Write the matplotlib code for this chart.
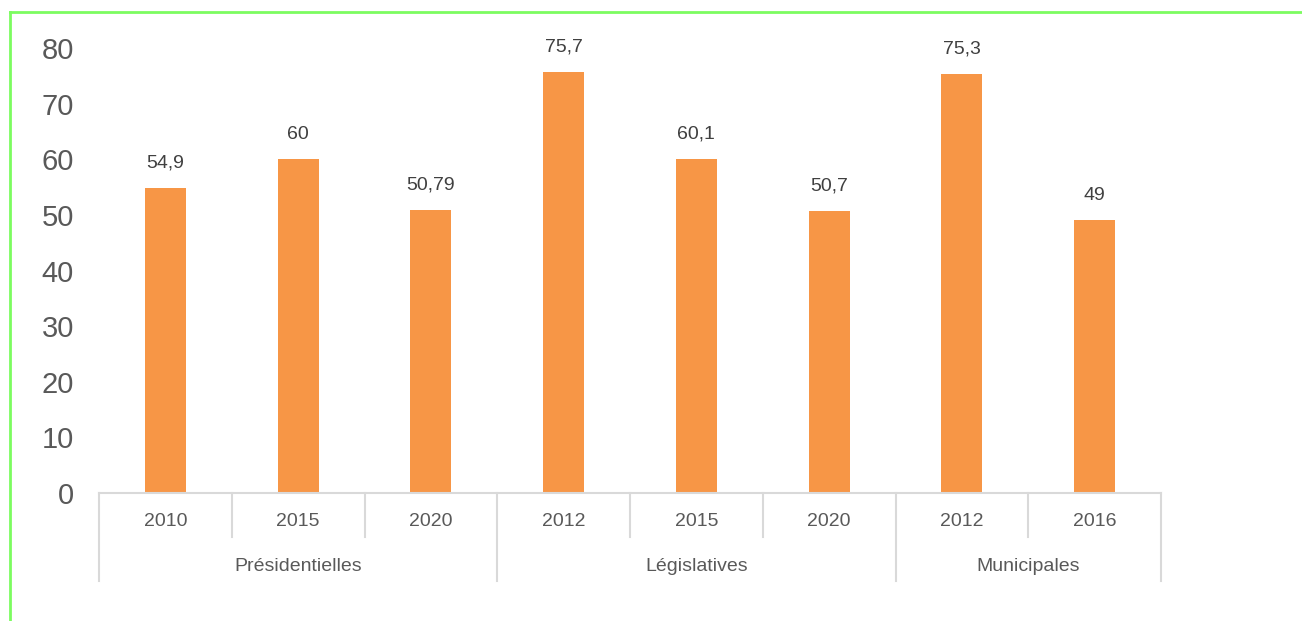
import numpy as np
import matplotlib.pyplot as plt
from matplotlib.lines import Line2D
import matplotlib.transforms as mtransforms

# data
groups = ['Présidentielles', 'Législatives', 'Municipales']
group_sizes = [3, 3, 2]
years = ['2010', '2015', '2020', '2012', '2015', '2020', '2012', '2016']
values = [54.9, 60, 50.79, 75.7, 60.1, 50.7, 75.3, 49]
value_labels = ['54,9', '60', '50,79', '75,7', '60,1', '50,7', '75,3', '49']

W, H = 1302, 621
fig = plt.figure(figsize=(W / 100, H / 100), dpi=100)
ax = fig.add_axes([99 / W, (H - 493) / H, (1161 - 99) / W, (493 - 48) / H])

narrow = ['Liberation Sans Narrow', 'Liberation Sans', 'DejaVu Sans']
x = np.arange(len(values))
ax.bar(x, values, width=0.31, color='#F79646', zorder=2)
for xi, v, lab in zip(x, values, value_labels):
    ax.annotate(lab, (xi, v), xytext=(0, 25), textcoords='offset pixels',
                ha='center', va='center', fontsize=14, color='#404040', family=narrow)

ax.set_xlim(-0.5, len(values) - 0.5)
ax.set_ylim(0, 80)
ax.set_yticks(range(0, 81, 10))
ax.tick_params(axis='y', length=0, labelsize=21, labelcolor='#595959', pad=18)
for t in ax.get_yticklabels():
    t.set_family(['Liberation Sans', 'DejaVu Sans'])
ax.set_xticks([])
for s in ['top', 'right', 'left']:
    ax.spines[s].set_visible(False)
ax.spines['bottom'].set_color('#D9D9D9')
ax.spines['bottom'].set_linewidth(1.5)

trans = mtransforms.blended_transform_factory(ax.transData, ax.transAxes)
sep = '#D9D9D9'
# year labels + short separators
for xi, yr in zip(x, years):
    ax.text(xi, -0.065, yr, transform=trans, ha='center', va='center',
            fontsize=14, color='#595959', family=narrow)
bounds = np.cumsum([0] + group_sizes) - 0.5
for b in np.arange(-0.5, len(values)):
    long = np.any(np.isclose(bounds, b))
    ax.plot([b, b], [0, -0.198 if long else -0.099], transform=trans,
            color=sep, lw=1.5, clip_on=False)
start = 0
for g, n in zip(groups, group_sizes):
    ax.text(start + (n - 1) / 2, -0.166, g, transform=trans, ha='center', va='center',
            fontsize=14, color='#595959', family=narrow)
    start += n

# green frame
green = '#7CFC60'
fig.add_artist(Line2D([10 / W, 1], [1 - 12 / H, 1 - 12 / H], color=green, lw=2, transform=fig.transFigure))
fig.add_artist(Line2D([10 / W, 10 / W], [0, 1 - 12 / H], color=green, lw=2, transform=fig.transFigure))

fig.savefig('out.png', dpi=100)
